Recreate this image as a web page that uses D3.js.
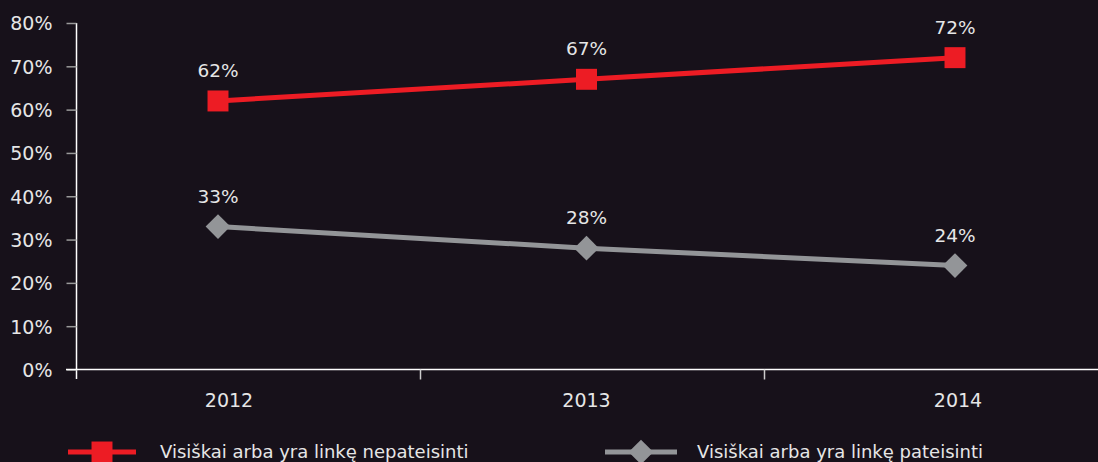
<!DOCTYPE html>
<html>
<head>
<meta charset="utf-8">
<script src="https://cdn.jsdelivr.net/npm/d3@7"></script>
<style>
  html, body { margin: 0; padding: 0; background: #17111a; }
  svg text { font-family: "DejaVu Sans", sans-serif; fill: #e6e6e6; }
</style>
</head>
<body>
<div id="vis"></div>
<script>
// data
const years = ["2012", "2013", "2014"];
const notJustified = [62, 67, 72];   // red squares
const justified = [33, 28, 24];      // grey diamonds
const seriesNames = ["Visiškai arba yra linkę nepateisinti", "Visiškai arba yra linkę pateisinti"];
const yTicks = [0, 10, 20, 30, 40, 50, 60, 70, 80];

const RED = "#ed1c24";
const GREY = "#939598";

const width = 1098, height = 462;

const svg = d3.select("#vis")
    .append("svg")
    .attr("width", width)
    .attr("height", height);

// scales
const y = d3.scaleLinear().domain([0, 80]).range([369.5, 23]);
const x = d3.scalePoint().domain(years).range([218, 955]);
const xBand = d3.scaleBand().domain(years).range([76.5, 1108.5]);

// y axis
const yAxis = svg.append("g")
    .attr("transform", "translate(76.5,0)")
    .call(d3.axisLeft(y).tickValues(yTicks).tickFormat(d => d + "%").tickSize(10).tickPadding(14));
yAxis.select(".domain").attr("stroke", "#fff").attr("stroke-width", 1.5).attr("d", "M0,23V379");
yAxis.selectAll(".tick line").attr("stroke", "#9a9a9a").attr("stroke-width", 1.5);
yAxis.selectAll(".tick text").style("font-size", "19px").attr("fill", "#e6e6e6").attr("dy", "0.36em");

// x axis line + band ticks
svg.append("line")
    .attr("x1", 66).attr("x2", width)
    .attr("y1", y(0)).attr("y2", y(0))
    .attr("stroke", "#fff").attr("stroke-width", 1.5);

svg.selectAll(".xtick")
    .data(years.slice(1))
    .join("line")
    .attr("class", "xtick")
    .attr("x1", d => xBand(d)).attr("x2", d => xBand(d))
    .attr("y1", y(0)).attr("y2", y(0) + 10)
    .attr("stroke", "#ccc").attr("stroke-width", 1.5);

svg.selectAll(".xlabel")
    .data(years)
    .join("text")
    .attr("class", "xlabel")
    .attr("x", (d, i) => x(d) + [11, 0, 3][i])
    .attr("y", 407)
    .attr("text-anchor", "middle")
    .style("font-size", "19px")
    .text(d => d);

// lines
const line = d3.line()
    .x((d, i) => x(years[i]))
    .y(d => y(d));

svg.append("path")
    .datum(notJustified)
    .attr("d", line)
    .attr("fill", "none")
    .attr("stroke", RED)
    .attr("stroke-width", 5);

svg.append("path")
    .datum(justified)
    .attr("d", line)
    .attr("fill", "none")
    .attr("stroke", GREY)
    .attr("stroke-width", 5);

// markers
const square = d3.symbol().type(d3.symbolSquare).size(440);
const diamond = d3.symbol().type(d3.symbolDiamond2).size(390);

svg.selectAll(".sq")
    .data(notJustified)
    .join("path")
    .attr("class", "sq")
    .attr("transform", (d, i) => `translate(${x(years[i])},${y(d)})`)
    .attr("d", square)
    .attr("fill", RED);

svg.selectAll(".dm")
    .data(justified)
    .join("path")
    .attr("class", "dm")
    .attr("transform", (d, i) => `translate(${x(years[i])},${y(d)})`)
    .attr("d", diamond)
    .attr("fill", GREY);

// value labels
function valueLabels(data, cls) {
    svg.selectAll("." + cls)
        .data(data)
        .join("text")
        .attr("class", cls)
        .attr("x", (d, i) => x(years[i]))
        .attr("y", d => y(d) - 24)
        .attr("text-anchor", "middle")
        .style("font-size", "18.5px")
        .text(d => d + "%");
}
valueLabels(notJustified, "lblR");
valueLabels(justified, "lblG");

// legend
const legend = svg.append("g");
const legendItems = [
    { name: seriesNames[0], color: RED, sym: square, x0: 68, x1: 136, tx: 160 },
    { name: seriesNames[1], color: GREY, sym: diamond, x0: 605, x1: 677, tx: 697 }
];
legendItems.forEach(it => {
    legend.append("line")
        .attr("x1", it.x0).attr("x2", it.x1)
        .attr("y1", 452).attr("y2", 452)
        .attr("stroke", it.color).attr("stroke-width", 5);
    legend.append("path")
        .attr("transform", `translate(${(it.x0 + it.x1) / 2},452)`)
        .attr("d", it.sym)
        .attr("fill", it.color);
    legend.append("text")
        .attr("x", it.tx)
        .attr("y", 458)
        .style("font-size", "18px")
        .text(it.name);
});
</script>
</body>
</html>
